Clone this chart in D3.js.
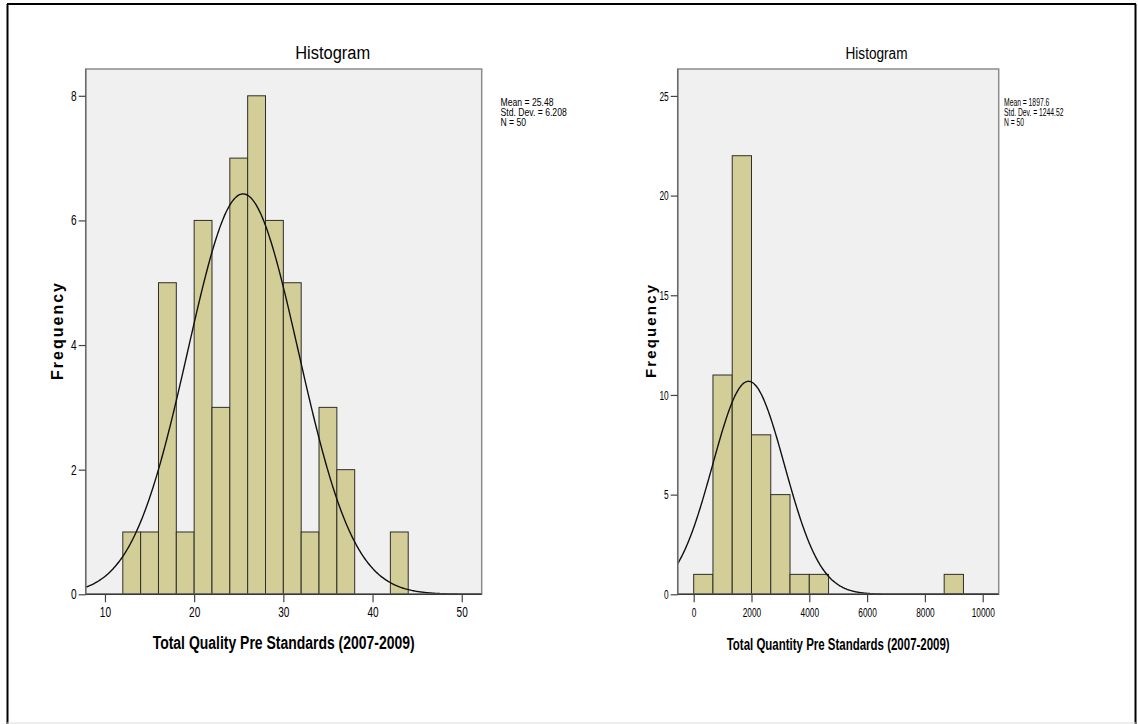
<!DOCTYPE html>
<html>
<head>
<meta charset="utf-8">
<script src="https://cdn.jsdelivr.net/npm/d3@7"></script>
<style>
  html, body { margin: 0; padding: 0; background: #fff; }
  svg { display: block; }
  text { font-family: "Liberation Sans", Arial, sans-serif; fill: #000; }
</style>
</head>
<body>
<svg id="chart" width="1138" height="724"></svg>
<script>
// ---------- data ----------
const qualityBinStarts = [12, 14, 16, 18, 20, 22, 24, 26, 28, 30, 32, 34, 36, 38, 40, 42];
const qualityCounts    = [1, 1, 5, 1, 6, 3, 7, 8, 6, 5, 1, 3, 2, 0, 0, 1];
const qualityBinWidth  = 2;
const qualityStats     = { mean: 25.48, sd: 6.208, n: 50 };
const qualityXTicks    = [10, 20, 30, 40, 50];
const qualityYTicks    = [0, 2, 4, 6, 8];
const qualityStatLines = ["Mean = 25.48", "Std. Dev. = 6.208", "N = 50"];

const quantityBinStarts = [0, 666.67, 1333.33, 2000, 2666.67, 3333.33, 4000, 8666.67];
const quantityCounts    = [1, 11, 22, 8, 5, 1, 1, 1];
const quantityBinWidth  = 666.67;
const quantityStats     = { mean: 1897.6, sd: 1244.52, n: 50 };
const quantityXTicks    = [0, 2000, 4000, 6000, 8000, 10000];
const quantityYTicks    = [0, 5, 10, 15, 20, 25];
const quantityStatLines = ["Mean = 1897.6", "Std. Dev. = 1244.52", "N = 50"];

const titles  = ["Histogram", "Histogram"];
const xTitles = ["Total Quality Pre Standards (2007-2009)", "Total Quantity Pre Standards (2007-2009)"];
const yTitle  = "Frequency";

// ---------- layout ----------
const svg = d3.select("#chart");

// outer frame
svg.append("line").attr("x1", 7.5).attr("x2", 7.5).attr("y1", 4).attr("y2", 724).attr("stroke", "#000").attr("stroke-width", 2);
svg.append("line").attr("x1", 7).attr("x2", 1136).attr("y1", 4).attr("y2", 4).attr("stroke", "#000").attr("stroke-width", 2);
svg.append("line").attr("x1", 1135.5).attr("x2", 1135.5).attr("y1", 4).attr("y2", 724).attr("stroke", "#000").attr("stroke-width", 2);
svg.append("line").attr("x1", 7).attr("x2", 1136).attr("y1", 723).attr("y2", 723).attr("stroke", "#ddd").attr("stroke-width", 1);

const panels = [
  {
    starts: qualityBinStarts, counts: qualityCounts, bw: qualityBinWidth, stats: qualityStats,
    xTicks: qualityXTicks, yTicks: qualityYTicks, statLines: qualityStatLines,
    x0: 85.7, x1: 481.7, y0: 69, y1: 594.3,
    xDom: [7.84, 52.24], yDom: [0, 8.43],
    title: titles[0], titleX: 332.7, titleSize: 18, titleLen: 75,
    xTitle: xTitles[0], xTitleLen: 262, xTitleSize: 18, xTitleY: 649,
    tickSize: 14, tickScale: 0.72,
    yTitleX: 63, yTitleLen: 97, yTitleSize: 16,
    statX: 500.5, statSize: 11, statScale: 0.785
  },
  {
    starts: quantityBinStarts, counts: quantityCounts, bw: quantityBinWidth, stats: quantityStats,
    xTicks: quantityXTicks, yTicks: quantityYTicks, statLines: quantityStatLines,
    x0: 677.7, x1: 998.7, y0: 69, y1: 594.3,
    xDom: [-553, 10553], yDom: [0, 26.35],
    title: titles[1], titleX: 876.5, titleSize: 16, titleLen: 62,
    xTitle: xTitles[1], xTitleLen: 223, xTitleSize: 16, xTitleY: 650,
    tickSize: 13, tickScale: 0.64,
    yTitleX: 656, yTitleLen: 93, yTitleSize: 15,
    statX: 1004, statSize: 11, statScale: 0.615
  }
];

panels.forEach((p, i) => {
  const x = d3.scaleLinear().domain(p.xDom).range([p.x0, p.x1]);
  const y = d3.scaleLinear().domain(p.yDom).range([p.y1, p.y0]);
  const g = svg.append("g");

  // background
  g.append("rect").attr("x", p.x0).attr("y", p.y0)
    .attr("width", p.x1 - p.x0).attr("height", p.y1 - p.y0)
    .attr("fill", "#f0f0f0");

  const clipId = "clip" + i;
  svg.append("clipPath").attr("id", clipId).append("rect")
    .attr("x", p.x0).attr("y", p.y0).attr("width", p.x1 - p.x0).attr("height", p.y1 - p.y0);

  // bars
  const bins = p.starts.map((s, k) => ({ s, c: p.counts[k] })).filter(d => d.c > 0);
  g.append("g").selectAll("rect").data(bins).join("rect")
    .attr("x", d => x(d.s))
    .attr("width", d => x(d.s + p.bw) - x(d.s))
    .attr("y", d => y(d.c))
    .attr("height", d => y(0) - y(d.c))
    .attr("fill", "#d3ce97")
    .attr("stroke", "#2e2e2a")
    .attr("stroke-width", 1);

  // normal curve
  const st = p.stats;
  const pdf = v => st.n * p.bw / (st.sd * Math.sqrt(2 * Math.PI)) * Math.exp(-0.5 * Math.pow((v - st.mean) / st.sd, 2));
  const xs = d3.range(0, 401).map(k => p.xDom[0] + (p.xDom[1] - p.xDom[0]) * k / 400);
  g.append("path")
    .datum(xs)
    .attr("clip-path", `url(#${clipId})`)
    .attr("d", d3.line().x(v => x(v)).y(v => y(pdf(v))).curve(d3.curveBasis))
    .attr("fill", "none").attr("stroke", "#111").attr("stroke-width", 1.4);

  // plot frame
  g.append("rect").attr("x", p.x0).attr("y", p.y0)
    .attr("width", p.x1 - p.x0).attr("height", p.y1 - p.y0)
    .attr("fill", "none").attr("stroke", "#8c8c8c").attr("stroke-width", 1.5);
  g.append("line").attr("x1", p.x0).attr("x2", p.x1).attr("y1", p.y1).attr("y2", p.y1)
    .attr("stroke", "#3a3a3a").attr("stroke-width", 1.6);
  g.append("line").attr("x1", p.x0).attr("x2", p.x0).attr("y1", p.y0).attr("y2", p.y1)
    .attr("stroke", "#6a6a6a").attr("stroke-width", 1.4);

  // x axis
  const xAxis = d3.axisBottom(x).tickValues(p.xTicks).tickSize(8).tickPadding(5).tickFormat(d3.format("d"));
  const xg = g.append("g").attr("transform", `translate(0,${p.y1})`).call(xAxis);
  xg.select(".domain").remove();
  xg.selectAll(".tick line").attr("stroke", "#444").attr("stroke-width", 1.2);
  xg.selectAll(".tick text")
    .attr("font-family", "Liberation Sans, Arial, sans-serif")
    .attr("font-size", p.tickSize).attr("fill", "#111")
    .attr("transform", `scale(${p.tickScale},1)`);

  // y axis
  const yAxis = d3.axisLeft(y).tickValues(p.yTicks).tickSize(7).tickPadding(2).tickFormat(d3.format("d"));
  const yg = g.append("g").attr("transform", `translate(${p.x0},0)`).call(yAxis);
  yg.select(".domain").remove();
  yg.selectAll(".tick line").attr("stroke", "#444").attr("stroke-width", 1.2);
  yg.selectAll(".tick text")
    .attr("font-family", "Liberation Sans, Arial, sans-serif")
    .attr("font-size", p.tickSize).attr("fill", "#111")
    .attr("transform", `scale(${p.tickScale},1)`)
    .attr("x", -9 / p.tickScale);

  // title
  svg.append("text").attr("x", p.titleX).attr("y", 59)
    .attr("text-anchor", "middle").attr("font-size", p.titleSize)
    .attr("textLength", p.titleLen).attr("lengthAdjust", "spacingAndGlyphs")
    .text(p.title);

  // x title
  svg.append("text").attr("x", (p.x0 + p.x1) / 2).attr("y", p.xTitleY)
    .attr("text-anchor", "middle").attr("font-size", p.xTitleSize).attr("font-weight", "bold")
    .attr("textLength", p.xTitleLen).attr("lengthAdjust", "spacingAndGlyphs")
    .text(p.xTitle);

  // y title
  svg.append("text")
    .attr("transform", `translate(${p.yTitleX},${(283 + 380) / 2}) rotate(-90)`)
    .attr("text-anchor", "middle").attr("font-size", p.yTitleSize).attr("font-weight", "bold")
    .attr("textLength", p.yTitleLen).attr("lengthAdjust", "spacing")
    .text(yTitle);

  // stats
  const sg = svg.append("g").attr("transform", `translate(${p.statX},0) scale(${p.statScale},1)`);
  sg.selectAll("text").data(p.statLines).join("text")
    .attr("x", 0).attr("y", (d, k) => 106.5 + k * 10)
    .attr("font-size", p.statSize).attr("fill", "#111")
    .text(d => d);
});
</script>
</body>
</html>
